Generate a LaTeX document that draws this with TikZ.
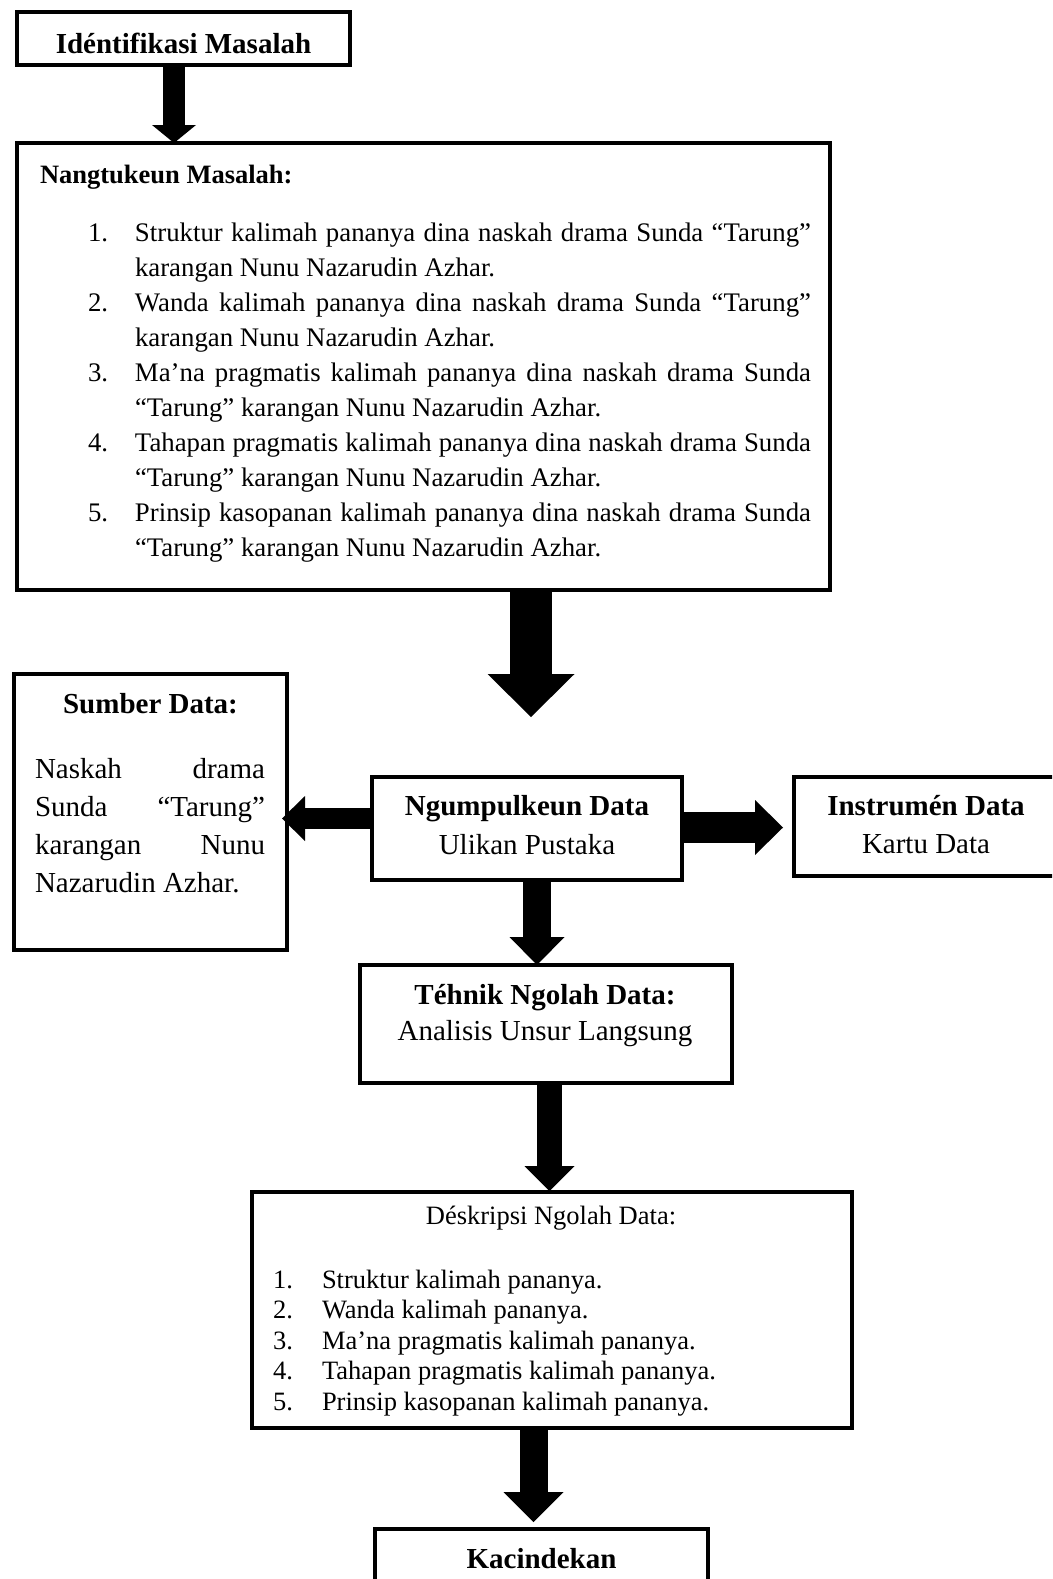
\documentclass[tikz,border=0pt]{standalone}
\usepackage{fontspec}
\setmainfont{Liberation Serif}
\usetikzlibrary{arrows.meta,calc}
\begin{document}
\begin{tikzpicture}[x=1pt,y=-1pt,
  box/.style={draw, line width=4pt, rectangle, inner sep=0pt, outer sep=0pt},
  txt/.style={inner sep=0pt, outer sep=0pt, anchor=base, font=\fontsize{29}{35}\selectfont},
  txtb/.style={txt, font=\fontsize{29}{35}\selectfont\bfseries},
  txtl/.style={txt, anchor=base west},
  small/.style={font=\fontsize{26.5}{30.5}\selectfont},
  listfont/.style={font=\fontsize{26.8}{35.1}\selectfont},
  fatarrow/.style n args={3}{line width=#1, -{Triangle[width=#2, length=#3, line width=0pt]}}]
\useasboundingbox (0,0) rectangle (1052,1579);
\clip (0,0) rectangle (1052,1579);

% boxes
\node[box, minimum width=333pt, minimum height=53pt]  (b1) at (183.5,38.5) {};
\node[box, minimum width=813pt, minimum height=447pt] (b2) at (423.5,366.5) {};
\node[box, minimum width=273pt, minimum height=276pt] (b3) at (150.5,812) {};
\node[box, minimum width=310pt, minimum height=103pt] (b4) at (527,828.5) {};
\node[box, minimum width=286pt, minimum height=99pt]  (b5) at (937,826.5) {};
\node[box, minimum width=372pt, minimum height=118pt] (b6) at (546,1024) {};
\node[box, minimum width=600pt, minimum height=236pt] (b7) at (552,1310) {};
\node[box, minimum width=333pt, minimum height=91pt]  (b8) at (541.5,1574.5) {};

% texts
\node[txtb] (x1) at (183.5,53) {Idéntifikasi Masalah};

\node[txtl, font=\fontsize{26.5}{35}\selectfont\bfseries] (x2) at (40,183) {Nangtukeun Masalah:};
\node[txtl, listfont] (l2) at (88,241) {\vtop{\baselineskip=35.1pt
  \hbox{\hbox to47pt{1.\hss}\hbox to676pt{Struktur kalimah pananya dina naskah drama Sunda “Tarung”}}
  \hbox{\hskip47pt karangan Nunu Nazarudin Azhar.}
  \hbox{\hbox to47pt{2.\hss}\hbox to676pt{Wanda kalimah pananya dina naskah drama Sunda “Tarung”}}
  \hbox{\hskip47pt karangan Nunu Nazarudin Azhar.}
  \hbox{\hbox to47pt{3.\hss}\hbox to676pt{Ma’na pragmatis kalimah pananya dina naskah drama Sunda}}
  \hbox{\hskip47pt “Tarung” karangan Nunu Nazarudin Azhar.}
  \hbox{\hbox to47pt{4.\hss}\hbox to676pt{Tahapan pragmatis kalimah pananya dina naskah drama Sunda}}
  \hbox{\hskip47pt “Tarung” karangan Nunu Nazarudin Azhar.}
  \hbox{\hbox to47pt{5.\hss}\hbox to676pt{Prinsip kasopanan kalimah pananya dina naskah drama Sunda}}
  \hbox{\hskip47pt “Tarung” karangan Nunu Nazarudin Azhar.}}};

\node[txtb] (x3) at (150.5,713) {Sumber Data:};
\node[txtl] (s3) at (35,778) {\vtop{\baselineskip=38.3pt
  \hbox to230pt{Naskah\hfill drama}
  \hbox to230pt{Sunda\hfill “Tarung”}
  \hbox to230pt{karangan\hfill Nunu}
  \hbox{Nazarudin Azhar.}}};

\node[txtb] (x4) at (527,815) {Ngumpulkeun Data};
\node[txt] (y4) at (527,854) {Ulikan Pustaka};

\node[txtb] (x5) at (926,815) {Instrumén Data};
\node[txt] (y5) at (926,853) {Kartu Data};

\node[txtb] (x6) at (545,1004) {Téhnik Ngolah Data:};
\node[txt] (y6) at (545,1040) {Analisis Unsur Langsung};

\node[txt, small] (x7) at (551,1224) {Déskripsi Ngolah Data:};
\node[txtl, small] (l7) at (273,1288) {\vtop{\baselineskip=30.5pt
  \hbox{\hbox to49pt{1.\hss}Struktur kalimah pananya.}
  \hbox{\hbox to49pt{2.\hss}Wanda kalimah pananya.}
  \hbox{\hbox to49pt{3.\hss}Ma’na pragmatis kalimah pananya.}
  \hbox{\hbox to49pt{4.\hss}Tahapan pragmatis kalimah pananya.}
  \hbox{\hbox to49pt{5.\hss}Prinsip kasopanan kalimah pananya.}}};

\node[txtb] (x8) at (541.5,1568) {Kacindekan};

% arrows
\coordinate (t1) at (174,143);
\draw[fatarrow={22pt}{44pt}{18pt}] (t1 |- b1.south) -- (t1);
\coordinate (t2) at (531,717);
\draw[fatarrow={42pt}{87pt}{43pt}] (t2 |- b2.south) -- (t2);
\coordinate (t3) at (282,818.5);
\draw[fatarrow={21pt}{45pt}{23pt}] (t3 -| b4.west) -- (t3);
\coordinate (t4) at (783,827.5);
\draw[fatarrow={31pt}{55pt}{28pt}] (t4 -| b4.east) -- (t4);
\coordinate (t5) at (537,965);
\draw[fatarrow={28pt}{55pt}{28pt}] (t5 |- b4.south) -- (t5);
\coordinate (t6) at (549.5,1191);
\draw[fatarrow={25pt}{50pt}{25pt}] (t6 |- b6.south) -- (t6);
\coordinate (t7) at (533.5,1522);
\draw[fatarrow={28pt}{60pt}{30pt}] (t7 |- b7.south) -- (t7);
\end{tikzpicture}
\end{document}
